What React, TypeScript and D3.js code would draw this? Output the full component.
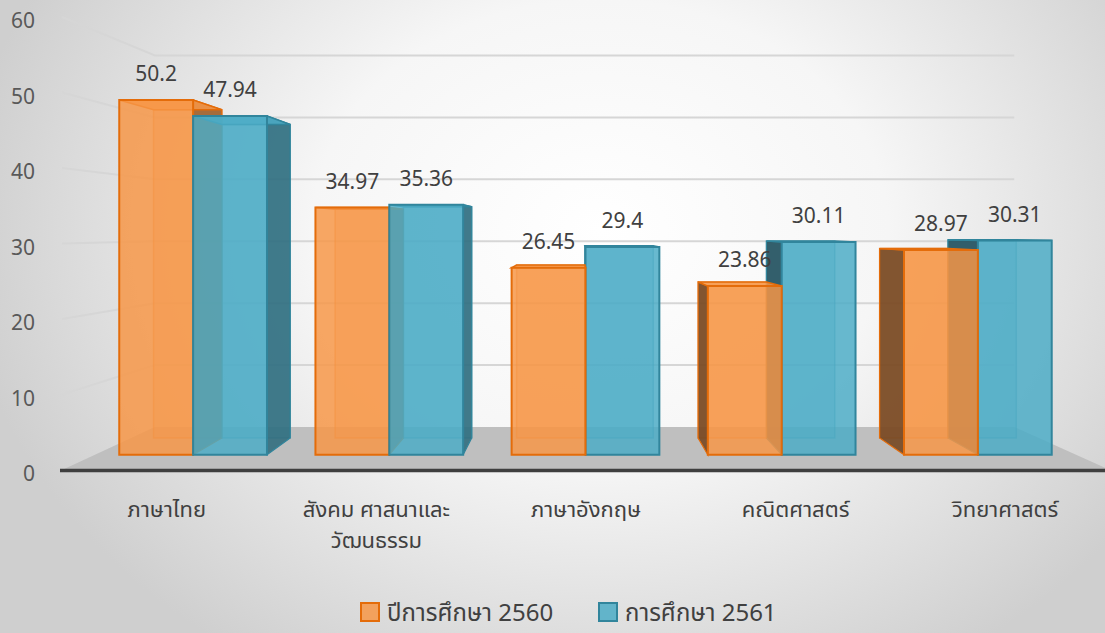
import React from 'react';
import * as d3 from 'd3';

// data
const categories = ['ภาษาไทย', 'สังคม ศาสนาและ\nวัฒนธรรม', 'ภาษาอังกฤษ', 'คณิตศาสตร์', 'วิทยาศาสตร์'];
const seriesNames = ['ปีการศึกษา 2560', 'การศึกษา 2561'];
const values2560 = [50.2, 34.97, 26.45, 23.86, 28.97];
const values2561 = [47.94, 35.36, 29.4, 30.11, 30.31];
const yTicks = [0, 10, 20, 30, 40, 50, 60];

const W = 1105;
const H = 633;
const fills = ['#F79646', '#4BACC6'];
const strokes = ['#E46C0A', '#31859C'];
const fontThai = "'Noto Sans Thai', 'Leelawadee UI', Tahoma, 'Noto Sans', sans-serif";
const fontNum = "'Noto Sans', 'Open Sans', sans-serif";

// simple one-point perspective: front plane -> scaled toward the vanishing point
const VP = { x: 578, y: 231 };
const S_WALL = 0.82;
const S_BAR_FRONT = 0.936;
const S_BAR_BACK = 0.866;

const x = d3.scaleBand<string>().domain(categories).range([62, 1110]).paddingInner(0.247).paddingOuter(0.1235);
const xs = d3.scaleBand<string>().domain(seriesNames).range([0, x.bandwidth()]);
const y = d3.scaleLinear().domain([0, 60]).range([470, 17]);

function P(px: number, py: number, s: number): [number, number] {
  return [VP.x + s * (px - VP.x), VP.y + s * (py - VP.y)];
}
const poly = (pts: [number, number][]) => 'M' + pts.map(p => p.join(',')).join('L') + 'Z';

type Bar = { cat: string; si: number; v: number; xl: number; xr: number };

const bars: Bar[] = [];
categories.forEach((c, i) => {
  [values2560[i], values2561[i]].forEach((v, si) => {
    const xl = (x(c) as number) + (xs(seriesNames[si]) as number);
    bars.push({ cat: c, si, v, xl, xr: xl + xs.bandwidth() });
  });
});
// draw bars far from the vanishing point first
const order = bars.slice().sort((a, b) => Math.abs((b.xl + b.xr) / 2 - VP.x) - Math.abs((a.xl + a.xr) / 2 - VP.x));

function BarShape({ b }: { b: Bar }) {
  const y0 = y(0);
  const y1 = y(b.v);
  const s1 = S_BAR_FRONT;
  const s2 = S_BAR_BACK;
  const FLB = P(b.xl, y0, s1), FRB = P(b.xr, y0, s1), FRT = P(b.xr, y1, s1), FLT = P(b.xl, y1, s1);
  const BLB = P(b.xl, y0, s2), BRB = P(b.xr, y0, s2), BRT = P(b.xr, y1, s2), BLT = P(b.xl, y1, s2);
  const fill = fills[b.si];
  const stroke = strokes[b.si];
  const leftSide = d3.color(fill)!.darker(2.1).formatHex();
  const rightSide = d3.color(fill)!.darker(1.3).formatHex();
  return (
    <g>
      <path d={poly([BLB, BRB, BRT, BLT])} fill={fill} fillOpacity={0.35} stroke={stroke} strokeOpacity={0.45} strokeWidth={1.5} />
      {b.xl > VP.x && (
        <path d={poly([FLB, BLB, BLT, FLT])} fill={leftSide} fillOpacity={0.9} stroke={stroke} strokeWidth={1.2} />
      )}
      {b.xr < VP.x && (
        <path d={poly([FRB, BRB, BRT, FRT])} fill={rightSide} fillOpacity={0.88} stroke={stroke} strokeWidth={1.2} />
      )}
      <path d={poly([FLT, FRT, BRT, BLT])} fill={fill} fillOpacity={0.85} stroke={stroke} strokeWidth={1.5} />
      <path d={poly([FLB, FRB, FRT, FLT])} fill={fill} fillOpacity={0.84} stroke={stroke} strokeWidth={2} />
    </g>
  );
}

export default function App() {
  const floor = [P(62, y(0), 1), P(62, y(0), S_WALL), P(1110, y(0), S_WALL), P(1110, y(0), 1)] as [number, number][];
  return (
    <svg width={W} height={H} style={{ position: 'absolute', left: 0, top: 0 }}>
      <defs>
        <radialGradient id="bg" cx="600" cy="230" r="640" gradientUnits="userSpaceOnUse" gradientTransform="translate(600,230) scale(1,0.8) translate(-600,-230)">
          <stop offset="0" stopColor="#ffffff" />
          <stop offset="0.45" stopColor="#f6f6f6" />
          <stop offset="1" stopColor="#cfcfcf" />
        </radialGradient>
      </defs>
      <rect width={W} height={H} fill="url(#bg)" />

      {/* floor */}
      <path d={poly(floor)} fill="#bfbfbf" />
      <line x1={60} x2={W} y1={y(0) + 0.5} y2={y(0) + 0.5} stroke="#3f3f3f" strokeWidth={3.5} />

      {/* gridlines: left wall + back wall */}
      {yTicks.filter(t => t > 0).map(t => {
        const f = P(62, y(t), 1);
        const bl = P(62, y(t), S_WALL);
        const br = P(1110, y(t), S_WALL);
        return (
          <path key={t} d={`M${f[0]},${f[1]}L${bl[0]},${bl[1]}L${br[0]},${br[1]}`} fill="none" stroke="#d6d6d6" strokeWidth={2} />
        );
      })}

      {/* tick labels */}
      {yTicks.map(t => (
        <text key={t} x={35} y={y(t) + 3} textAnchor="end" dominantBaseline="central" fontFamily={fontNum} fontSize={21} fill="#595959">
          {t}
        </text>
      ))}

      {/* bars */}
      {order.map(b => (
        <BarShape key={b.cat + b.si} b={b} />
      ))}

      {/* value labels */}
      {bars.map(b => {
        const p = P((b.xl + b.xr) / 2, y(b.v), S_BAR_FRONT);
        return (
          <text key={'l' + b.cat + b.si} x={p[0]} y={p[1] - 19} textAnchor="middle" fontFamily={fontNum} fontSize={21} fill="#404040">
            {b.v}
          </text>
        );
      })}

      {/* category labels */}
      {categories.map(c => (
        <text key={c} x={(x(c) as number) + x.bandwidth() / 2} y={517} textAnchor="middle" fontFamily={fontThai} fontSize={22} fill="#404040">
          {c.split('\n').map((line, i) => (
            <tspan key={i} x={(x(c) as number) + x.bandwidth() / 2} dy={i === 0 ? 0 : 31}>
              {line}
            </tspan>
          ))}
        </text>
      ))}

      {/* legend */}
      {seriesNames.map((s, i) => {
        const lx = [360, 598][i];
        return (
          <g key={s}>
            <rect x={lx + 1} y={603} width={18} height={18} fill={fills[i]} fillOpacity={0.85} stroke={strokes[i]} strokeWidth={2} />
            <text x={lx + 27} y={621} fontFamily={fontThai} fontSize={24} fill="#404040">
              {s}
            </text>
          </g>
        );
      })}
    </svg>
  );
}
